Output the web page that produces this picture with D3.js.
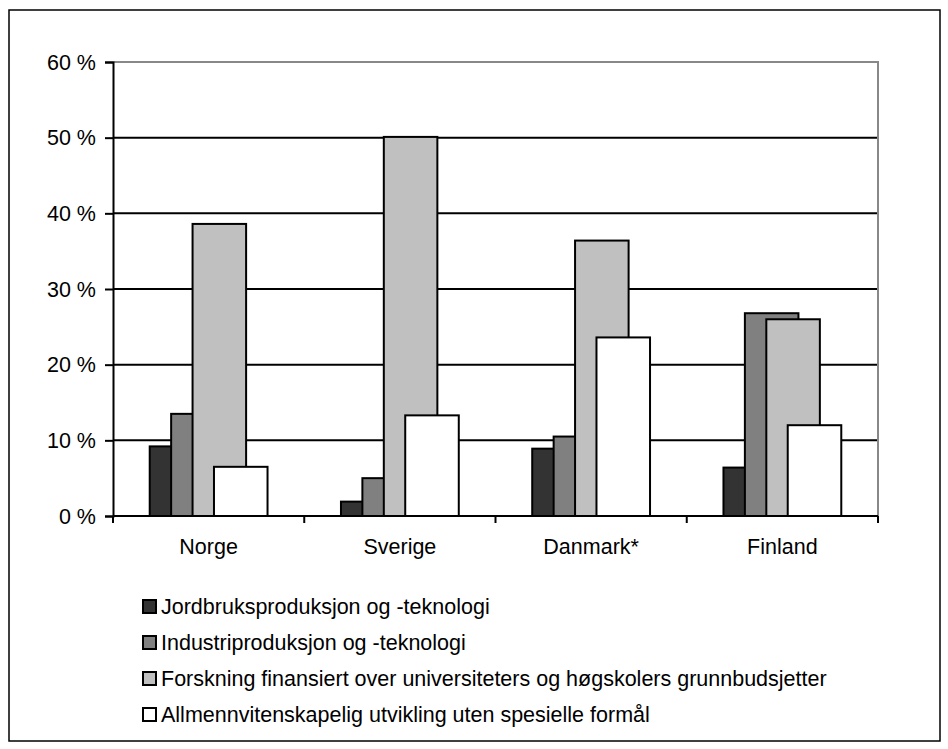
<!DOCTYPE html>
<html>
<head>
<meta charset="utf-8">
<script src="https://cdn.jsdelivr.net/npm/d3@7"></script>
<style>
  body { margin: 0; background: #fff; }
  text { font-family: "Liberation Sans", Arial, sans-serif; fill: #000; }
</style>
</head>
<body>
<div class="chart-container"></div>
<script>
// Data
const countries = ["Norge", "Sverige", "Danmark*", "Finland"];
const seriesNames = [
  "Jordbruksproduksjon og -teknologi",
  "Industriproduksjon og -teknologi",
  "Forskning finansiert over universiteters og høgskolers grunnbudsjetter",
  "Allmennvitenskapelig utvikling uten spesielle formål"
];
const jordbruk = [9.2, 1.9, 8.9, 6.4];
const industri = [13.5, 5.0, 10.5, 26.8];
const forskning = [38.6, 50.1, 36.4, 26.0];
const allmenn = [6.5, 13.3, 23.6, 12.0];
const yTicks = [0, 10, 20, 30, 40, 50, 60];
const colors = ["#333333", "#808080", "#c0c0c0", "#ffffff"];

const seriesValues = [jordbruk, industri, forskning, allmenn];
const fontSize = "21.5px";

// Setup
const width = 948, height = 749;
const margin = { top: 62, left: 113, right: 70, bottom: 233 };
const svg = d3.select(".chart-container").append("svg")
  .attr("width", width).attr("height", height);

// outer frame
svg.append("rect")
  .attr("x", 9).attr("y", 10)
  .attr("width", 931).attr("height", 731)
  .attr("fill", "none").attr("stroke", "#000").attr("stroke-width", 1.5);

// Scales
const x = d3.scaleBand()
  .domain(countries)
  .range([margin.left, width - margin.right]);
const y = d3.scaleLinear()
  .domain([0, 60])
  .range([height - margin.bottom, margin.top]);

// overlapping bars: each bar is wide, shifted by a step
const barW = x.bandwidth() * 0.28;
const step = x.bandwidth() * 0.112;
const groupW = step * 3 + barW;

// gridlines
svg.append("g")
  .selectAll("line")
  .data(yTicks.filter(d => d > 0 && d < 60))
  .enter().append("line")
    .attr("x1", margin.left).attr("x2", width - margin.right)
    .attr("y1", d => y(d)).attr("y2", d => y(d))
    .attr("stroke", "#000").attr("stroke-width", 2);

// plot border (top + right) in grey
svg.append("path")
  .attr("d", `M${margin.left},${y(60)}H${width - margin.right}V${y(0)}`)
  .attr("fill", "none").attr("stroke", "#888").attr("stroke-width", 2);

// Bars
const groups = svg.selectAll(".country")
  .data(countries)
  .enter().append("g")
  .attr("transform", d => `translate(${x(d) + x.bandwidth() / 2 - groupW / 2},0)`);

seriesValues.forEach((vals, s) => {
  groups.append("rect")
    .attr("x", s * step)
    .attr("width", barW)
    .attr("y", (d, i) => y(vals[i]))
    .attr("height", (d, i) => y(0) - y(vals[i]))
    .attr("fill", colors[s])
    .attr("stroke", "#000")
    .attr("stroke-width", 2);
});

// Y axis
const yAxis = svg.append("g")
  .attr("transform", `translate(${margin.left},0)`)
  .call(d3.axisLeft(y).tickValues(yTicks).tickSize(8).tickPadding(9)
    .tickFormat(d => d + " %"));
yAxis.select(".domain").attr("stroke", "#000").attr("stroke-width", 2);
yAxis.selectAll(".tick line").attr("stroke", "#000").attr("stroke-width", 2);
yAxis.selectAll("text").style("font-size", fontSize).style("font-family", null)
  .attr("fill", "#000").attr("dy", "0.34em");
yAxis.attr("font-family", null).attr("font-size", null);

// X axis
const xAxisG = svg.append("g")
  .attr("transform", `translate(0,${y(0)})`);
xAxisG.append("line")
  .attr("x1", margin.left).attr("x2", width - margin.right)
  .attr("stroke", "#000").attr("stroke-width", 2);
xAxisG.selectAll(".xtick")
  .data(d3.range(countries.length + 1))
  .enter().append("line")
    .attr("x1", i => margin.left + i * x.step())
    .attr("x2", i => margin.left + i * x.step())
    .attr("y1", 0).attr("y2", 7)
    .attr("stroke", "#000").attr("stroke-width", 2);
xAxisG.selectAll(".xlabel")
  .data(countries)
  .enter().append("text")
    .attr("x", d => x(d) + x.bandwidth() / 2)
    .attr("y", 38)
    .attr("text-anchor", "middle")
    .style("font-size", fontSize)
    .text(d => d);

// Legend
const legend = svg.append("g")
  .attr("transform", "translate(142,606)");
const rows = legend.selectAll("g")
  .data(seriesNames)
  .enter().append("g")
  .attr("transform", (d, i) => `translate(0,${i * 36})`);
rows.append("rect")
  .attr("x", 1).attr("y", -6)
  .attr("width", 13).attr("height", 13)
  .attr("fill", (d, i) => colors[i])
  .attr("stroke", "#000").attr("stroke-width", 2);
rows.append("text")
  .attr("x", 19).attr("y", 7.5)
  .style("font-size", fontSize)
  .text(d => d);
</script>
</body>
</html>
